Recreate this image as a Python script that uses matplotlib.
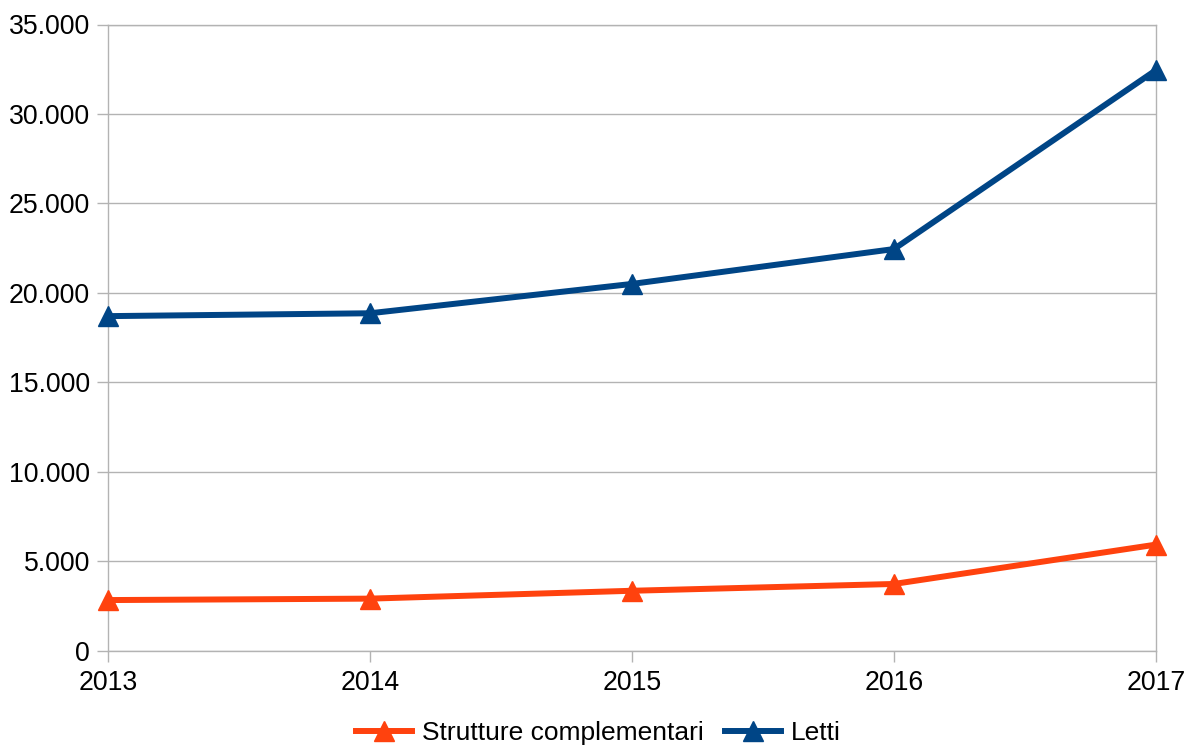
import matplotlib
matplotlib.use("Agg")
import matplotlib.pyplot as plt
from matplotlib.ticker import FuncFormatter, MultipleLocator

plt.rcParams['font.family'] = ['Liberation Sans', 'DejaVu Sans']

years = ["2013", "2014", "2015", "2016", "2017"]
strutture = [2830, 2910, 3350, 3730, 5930]
letti = [18700, 18860, 20500, 22450, 32450]

c_orange = "#ff420e"
c_blue = "#004586"
grid_c = "#b3b3b3"

fig = plt.figure(figsize=(11.88, 7.47), dpi=100)
fig.subplots_adjust(left=108/1188, right=1156/1188, top=1-24.5/747, bottom=1-650.7/747)
ax = fig.add_subplot(111)

x = list(range(len(years)))
ax.plot(x, strutture, color=c_orange, lw=4.3, marker='^', ms=15, clip_on=False, zorder=4,
        label="Strutture complementari")
ax.plot(x, letti, color=c_blue, lw=4.3, marker='^', ms=15, clip_on=False, zorder=4,
        label="Letti")

ax.set_xlim(0, len(years) - 1)
ax.set_ylim(0, 35000)
ax.set_xticks(x)
ax.set_xticklabels(years)
ax.yaxis.set_major_locator(MultipleLocator(5000))
ax.yaxis.set_major_formatter(FuncFormatter(lambda v, p: f"{int(v):,}".replace(",", ".")))

ax.grid(axis='y', color=grid_c, lw=1)
ax.set_axisbelow(True)
for s in ax.spines.values():
    s.set_color(grid_c)
    s.set_linewidth(1)
ax.tick_params(axis='both', colors=grid_c, labelcolor='black', labelsize=19.2, length=8, width=1)
ax.tick_params(axis='x', pad=6)
ax.tick_params(axis='y', pad=5)

fig.legend(loc='center', bbox_to_anchor=(0.504, 0.019), ncol=2, frameon=False, fontsize=19,
           handlelength=2.1, handletextpad=0.4, columnspacing=0.8)

fig.savefig("out.png", dpi=100)
